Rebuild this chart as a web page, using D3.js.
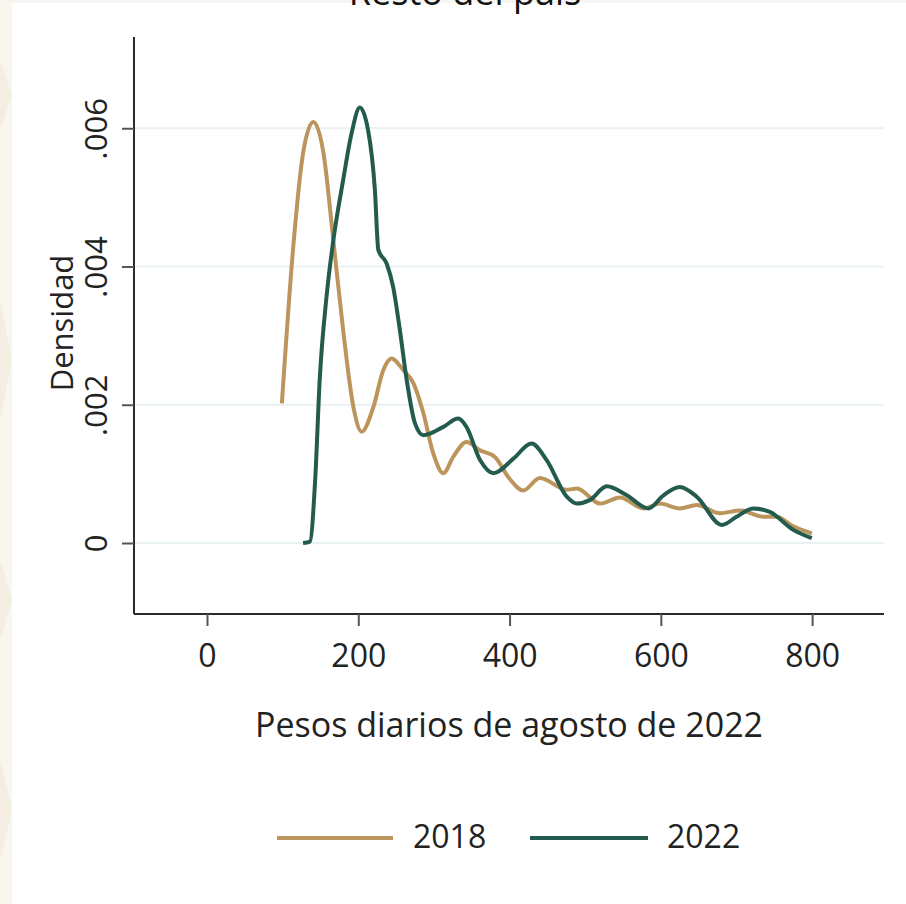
<!DOCTYPE html>
<html>
<head>
<meta charset="utf-8">
<script src="https://cdn.jsdelivr.net/npm/d3@7"></script>
<style>
  body { margin: 0; background: #ffffff; }
  svg { display: block; }
</style>
</head>
<body>
<div id="chart"></div>
<script>
// kernel density of daily wages
const years = ["2018", "2022"];
const colors = { "2018": "#bc955c", "2022": "#235b4e" };

const pesos2018 = [99, 114, 127, 140.6, 154, 167, 180, 193.5, 204.5, 220, 233, 244, 259.6, 273, 286, 299, 312.5, 325.7, 343, 361, 380, 400, 418, 440, 475.6, 489, 519.7, 546, 577, 599, 625, 647.5, 678, 705, 735.6, 753, 775, 799.6];
const dens2018 = [0.00202, 0.00428, 0.00564, 0.00609, 0.00564, 0.00438, 0.00308, 0.00197, 0.00161, 0.00197, 0.0025, 0.00267, 0.0025, 0.00231, 0.00188, 0.0013, 0.00101, 0.00125, 0.00146, 0.00134, 0.00125, 0.00093, 0.00076, 0.00094, 0.00077, 0.00079, 0.00057, 0.00066, 0.0005, 0.00057, 0.0005, 0.00055, 0.00043, 0.00047, 0.00038, 0.00038, 0.00024, 0.00014];

const pesos2022 = [127, 136, 143, 149, 158, 167, 180, 191, 202, 213, 222, 226.5, 237.6, 246, 255, 264, 275, 286, 312.5, 332, 343, 361, 378.6, 405, 429, 449, 475.6, 489, 506, 528.5, 555, 583.5, 603.5, 625, 647.5, 680.6, 700, 722, 744, 775, 799.6];
const dens2022 = [0, 0.00002, 0.00091, 0.00236, 0.00356, 0.00438, 0.00525, 0.00592, 0.0063, 0.00597, 0.0051, 0.00424, 0.00404, 0.00371, 0.00308, 0.00236, 0.00173, 0.00156, 0.00168, 0.0018, 0.00168, 0.0012, 0.00101, 0.00122, 0.00144, 0.0012, 0.00067, 0.00057, 0.00062, 0.00082, 0.00069, 0.0005, 0.00069, 0.00081, 0.00067, 0.00026, 0.00038, 0.0005, 0.00045, 0.00019, 0.00007];

const xTicks = [0, 200, 400, 600, 800];
const yTicks = [0, 0.002, 0.004, 0.006];
const yTickLabels = ["0", ".002", ".004", ".006"];

const title = "Resto del país";
const xTitle = "Pesos diarios de agosto de 2022";
const yTitle = "Densidad";

const width = 906, height = 904;
const plot = { left: 134, right: 884, top: 37, bottom: 614 };

const svg = d3.select("#chart").append("svg")
    .attr("width", width)
    .attr("height", height);

// faint watermark strip on the left + top band
svg.append("rect").attr("x", 0).attr("y", 0).attr("width", width).attr("height", 3).attr("fill", "#f6f5f2");
svg.append("rect").attr("x", 0).attr("y", 0).attr("width", 12).attr("height", height).attr("fill", "#f9f6f0");
[[0, 60, 12, 130], [0, 300, 12, 420], [0, 560, 12, 640], [0, 760, 12, 860]].forEach(function (s) {
    svg.append("path")
        .attr("d", "M" + s[0] + "," + s[1] + "L" + s[2] + "," + ((s[1] + s[3]) / 2) + "L" + s[0] + "," + s[3] + "Z")
        .attr("fill", "#f3ede2");
});

const x = d3.scaleLinear()
    .domain([-96.5, 895])
    .range([plot.left, plot.right]);

const y = d3.scaleLinear()
    .domain([-0.001027, 0.00732])
    .range([plot.bottom, plot.top]);

// gridlines
svg.append("g")
  .selectAll("line")
  .data(yTicks)
  .enter().append("line")
    .attr("x1", plot.left)
    .attr("x2", plot.right)
    .attr("y1", function (d) { return y(d); })
    .attr("y2", function (d) { return y(d); })
    .attr("stroke", "#e9f1f3")
    .attr("stroke-width", 2);

// x axis
const xAxis = svg.append("g")
    .attr("transform", "translate(0," + plot.bottom + ")")
    .call(d3.axisBottom(x).tickValues(xTicks).tickSize(12).tickPadding(10).tickSizeOuter(0));
xAxis.select(".domain").attr("stroke", "#2b2b2b").attr("stroke-width", 2)
    .attr("d", "M" + plot.left + ",0H" + plot.right);
xAxis.selectAll(".tick line").attr("stroke", "#555").attr("stroke-width", 2);
xAxis.selectAll(".tick text")
    .attr("font-family", "'Open Sans', sans-serif")
    .attr("font-size", 32)
    .attr("fill", "#222")
    .attr("dy", null)
    .attr("y", 53);

// y axis
const yAxis = svg.append("g")
    .attr("transform", "translate(" + plot.left + ",0)")
    .call(d3.axisLeft(y).tickValues(yTicks).tickSize(12).tickSizeOuter(0)
        .tickFormat(function (d, i) { return yTickLabels[i]; }));
yAxis.select(".domain").attr("stroke", "#2b2b2b").attr("stroke-width", 2)
    .attr("d", "M0," + plot.top + "V" + plot.bottom);
yAxis.selectAll(".tick line").attr("stroke", "#555").attr("stroke-width", 2);
yAxis.selectAll(".tick text")
    .attr("font-family", "'Open Sans', sans-serif")
    .attr("font-size", 31)
    .attr("fill", "#222")
    .attr("text-anchor", "middle")
    .attr("x", null)
    .attr("dy", null)
    .attr("transform", "translate(-27,0) rotate(-90)");

// density curves
const series = [
    { year: "2018", pts: pesos2018.map(function (p, i) { return [p, dens2018[i]]; }) },
    { year: "2022", pts: pesos2022.map(function (p, i) { return [p, dens2022[i]]; }) }
];

const line = d3.line()
    .x(function (d) { return x(d[0]); })
    .y(function (d) { return y(d[1]); })
    .curve(d3.curveMonotoneX);

svg.append("g")
  .selectAll("path")
  .data(series)
  .enter().append("path")
    .attr("d", function (d) { return line(d.pts); })
    .attr("fill", "none")
    .attr("stroke", function (d) { return colors[d.year]; })
    .attr("stroke-width", 4)
    .attr("stroke-linejoin", "round")
    .attr("stroke-linecap", "butt");

// titles (the chart title is cut off at the top edge in the source)
svg.append("text")
    .attr("x", 465).attr("y", 5)
    .attr("text-anchor", "middle")
    .attr("font-family", "'Open Sans', sans-serif")
    .attr("font-size", 36)
    .attr("fill", "#111")
    .text(title);

svg.append("text")
    .attr("x", (plot.left + plot.right) / 2).attr("y", 737)
    .attr("text-anchor", "middle")
    .attr("font-family", "'Open Sans', sans-serif")
    .attr("font-size", 34)
    .attr("fill", "#222")
    .text(xTitle);

svg.append("text")
    .attr("transform", "translate(73,323) rotate(-90)")
    .attr("text-anchor", "middle")
    .attr("font-family", "'Open Sans', sans-serif")
    .attr("font-size", 31)
    .attr("fill", "#222")
    .text(yTitle);

// legend
const legend = [
    { year: "2018", x1: 277, x2: 393, tx: 413 },
    { year: "2022", x1: 530, x2: 648, tx: 667 }
];
const lg = svg.append("g");
lg.selectAll("line")
  .data(legend)
  .enter().append("line")
    .attr("x1", function (d) { return d.x1; })
    .attr("x2", function (d) { return d.x2; })
    .attr("y1", 838).attr("y2", 838)
    .attr("stroke", function (d) { return colors[d.year]; })
    .attr("stroke-width", 4);
lg.selectAll("text")
  .data(legend)
  .enter().append("text")
    .attr("x", function (d) { return d.tx; })
    .attr("y", 848)
    .attr("font-family", "'Open Sans', sans-serif")
    .attr("font-size", 32)
    .attr("fill", "#222")
    .text(function (d) { return d.year; });
</script>
</body>
</html>
